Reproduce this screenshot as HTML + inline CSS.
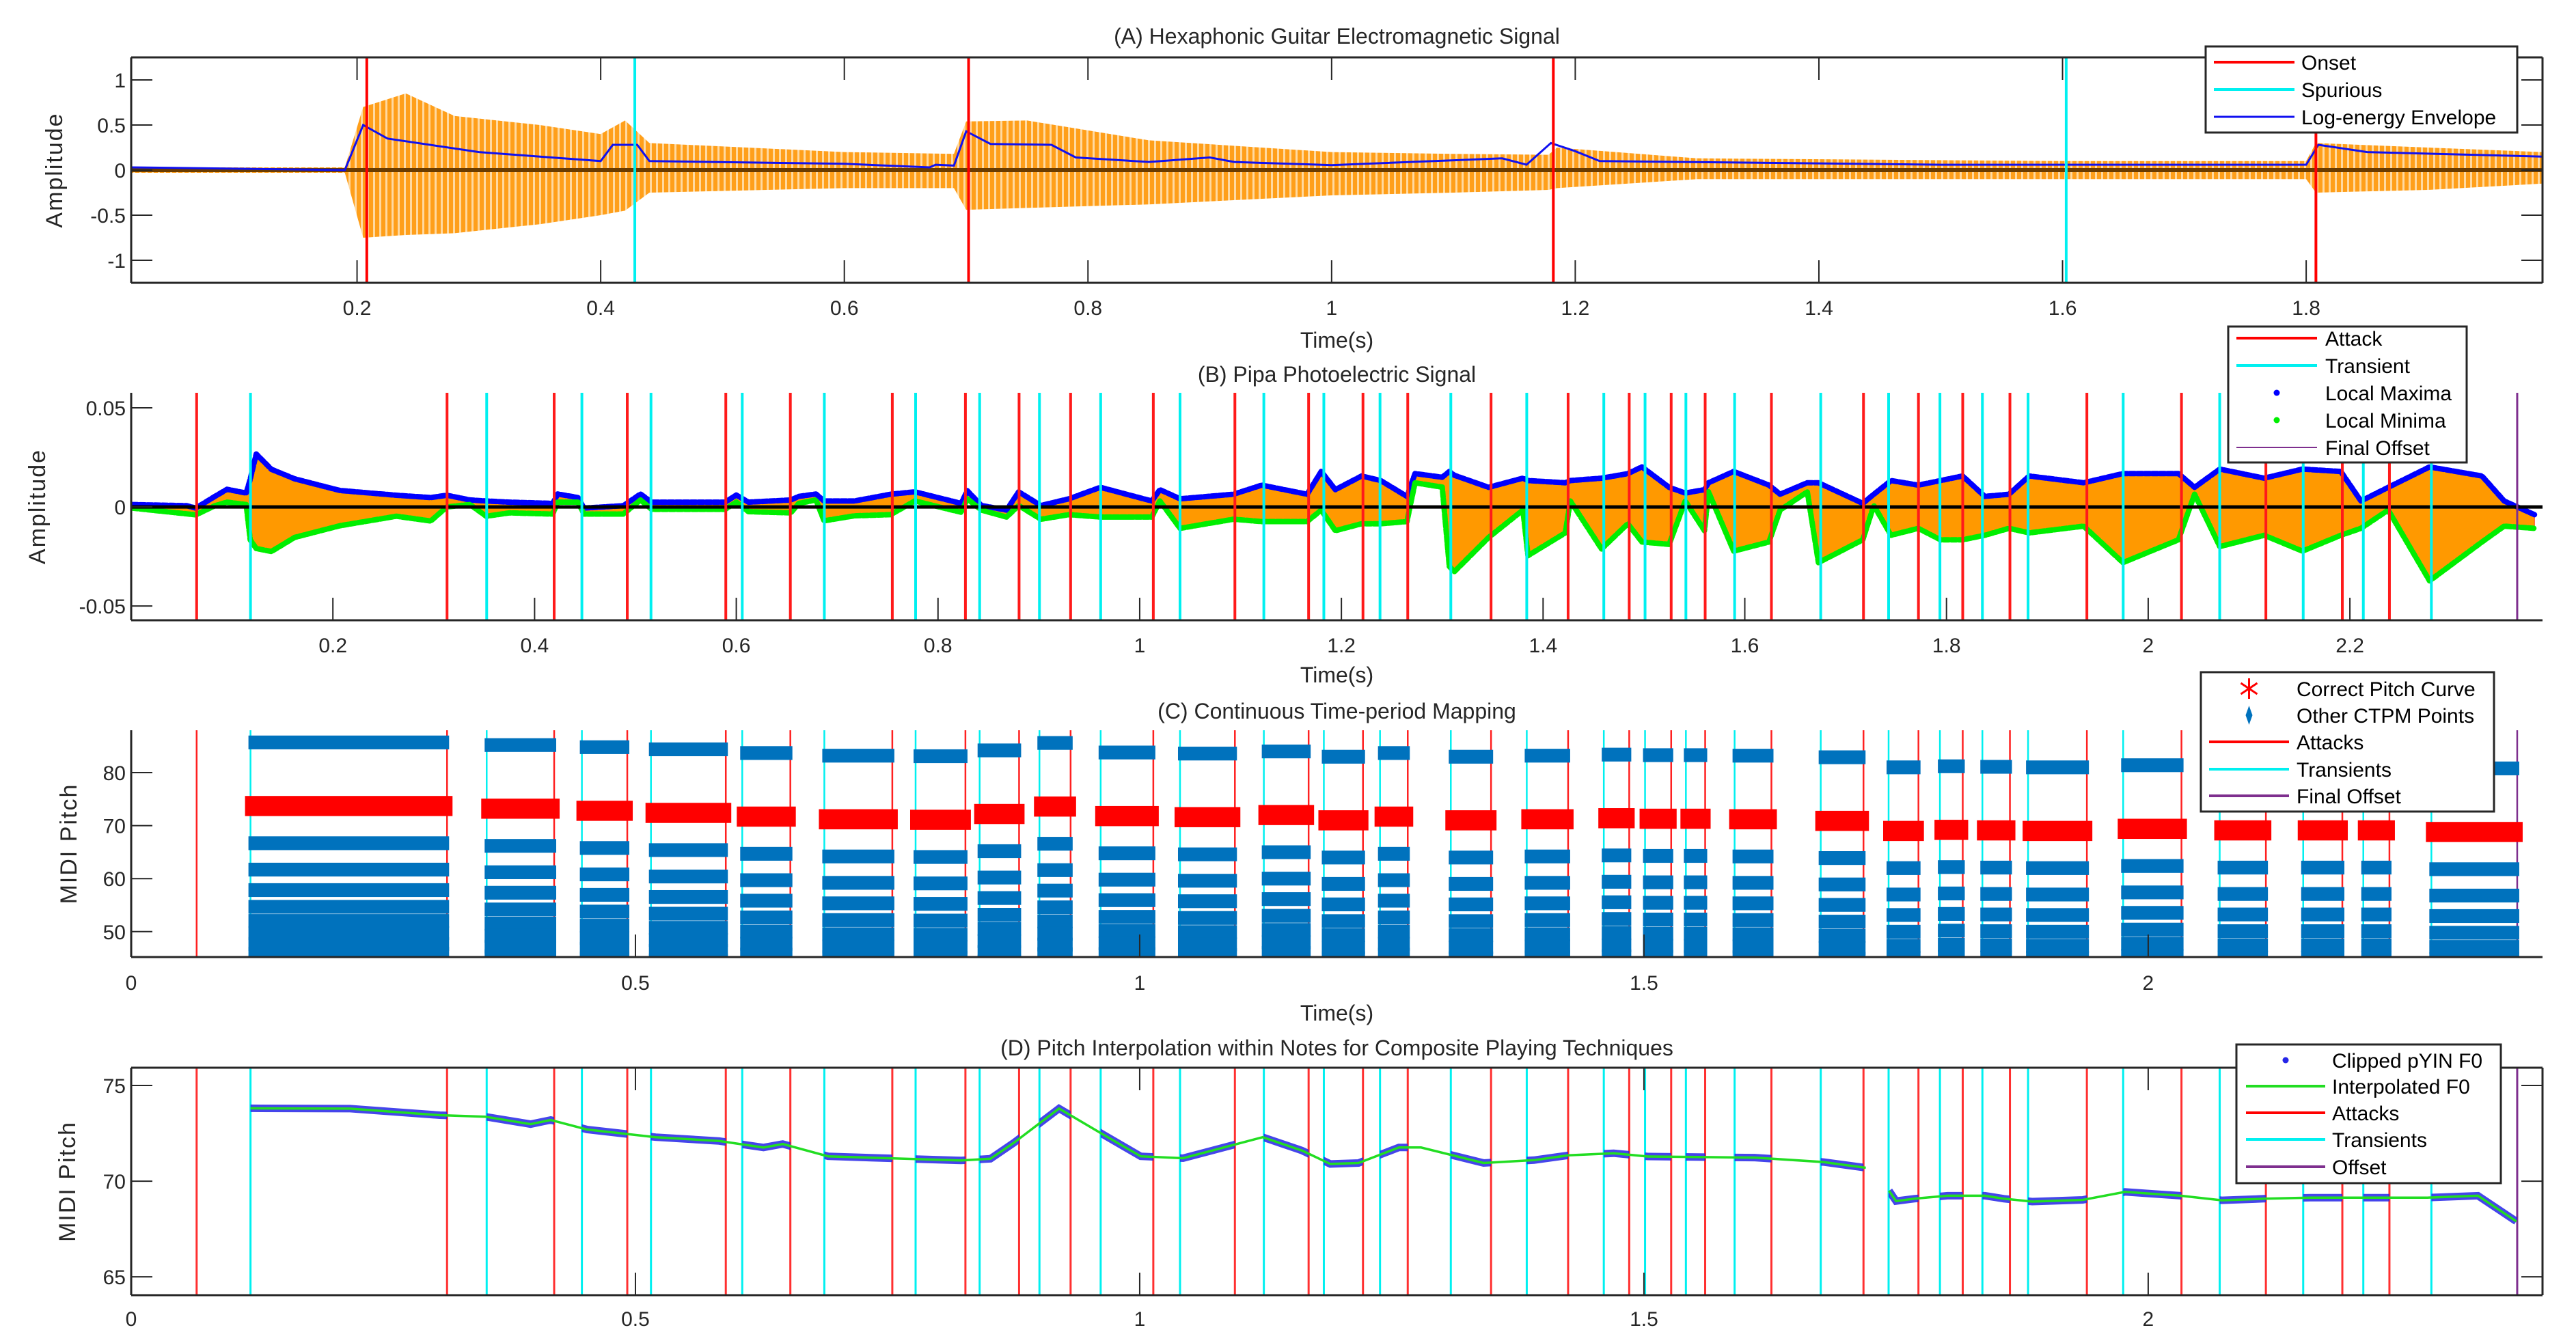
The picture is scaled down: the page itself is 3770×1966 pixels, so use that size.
<!DOCTYPE html>
<html><head><meta charset="utf-8"><title>Pipa signal figure</title>
<style>
html,body{margin:0;padding:0;background:#fff;}
svg{display:block;font-family:"Liberation Sans",Arial,sans-serif;}
</style></head>
<body>
<svg id="chart" width="3770" height="1966" viewBox="0 0 3770 1966" xmlns="http://www.w3.org/2000/svg">
<defs>
<pattern id="stripeA" x="0" y="0" width="9" height="10" patternUnits="userSpaceOnUse">
<rect x="0" y="0" width="6" height="10" fill="#FF9F1A"/>
<rect x="6" y="0" width="3" height="10" fill="#FFD9A0"/>
</pattern>
</defs>
<rect x="0" y="0" width="3770" height="1966" fill="#fff"/>
</svg>
<script>
// ---------- Panel A data ----------
const aT  = [0.0146,0.19,0.205,0.24,0.28,0.35,0.40,0.42,0.44,0.6,0.69,0.70,0.75,0.85,1.0,1.1,1.178,1.185,1.3,1.6,1.8,1.808,1.9,1.994];
const aUp = [0.03,0.03,0.7,0.85,0.6,0.5,0.4,0.55,0.3,0.2,0.18,0.54,0.55,0.33,0.2,0.18,0.17,0.25,0.13,0.1,0.1,0.3,0.25,0.2];
const aLo = [-0.03,-0.03,-0.75,-0.72,-0.7,-0.6,-0.5,-0.45,-0.25,-0.2,-0.2,-0.44,-0.42,-0.38,-0.28,-0.25,-0.22,-0.2,-0.1,-0.1,-0.1,-0.25,-0.22,-0.15];
const envT = [0.0146,0.19,0.205,0.225,0.3,0.35,0.40,0.41,0.43,0.44,0.6,0.67,0.675,0.69,0.70,0.72,0.77,0.79,0.85,0.9,0.92,1.0,1.14,1.16,1.18,1.2,1.22,1.5,1.8,1.81,1.85,1.994];
const envV = [0.03,0.0,0.5,0.35,0.2,0.15,0.1,0.28,0.28,0.1,0.07,0.03,0.06,0.05,0.43,0.29,0.28,0.14,0.09,0.14,0.09,0.055,0.13,0.06,0.3,0.21,0.1,0.06,0.06,0.28,0.2,0.15];
const aOnsets = [0.208,0.702,1.182,1.808];
const aSpurious = [0.428,1.603];
const aXTicks = [0.2,0.4,0.6,0.8,1,1.2,1.4,1.6,1.8];
const aXTickLabels = ["0.2","0.4","0.6","0.8","1","1.2","1.4","1.6","1.8"];
const aYTicks = [-1,-0.5,0,0.5,1];
const aYTickLabels = ["-1","-0.5","0","0.5","1"];

// ---------- Shared event times (B, C, D) ----------
const attacks = [0.0649,0.3132,0.4194,0.4919,0.5896,0.6536,0.7547,0.8272,0.8804,0.9315,1.0135,1.0944,1.1675,1.2214,1.2658,1.3484,1.4248,1.4854,1.5270,1.5607,1.6264,1.7177,1.7722,1.8161,1.8629,1.9392,2.0330,2.1167,2.1925,2.2392];
const transients = [0.1183,0.3525,0.4469,0.5154,0.6059,0.6873,0.7778,0.8413,0.9006,0.9613,1.0400,1.1231,1.1826,1.2383,1.3085,1.3838,1.4602,1.5011,1.5416,1.5899,1.6753,1.7426,1.7935,1.8356,1.8809,1.9752,2.0709,2.1537,2.2133,2.2808];
const finalOffset = [2.3659];

// ---------- Panel B data ----------
const bT  = [0.001,0.055,0.064,0.083,0.095,0.114,0.118,0.124,0.139,0.162,0.207,0.263,0.297,0.313,0.336,0.352,0.375,0.418,0.423,0.443,0.449,0.488,0.505,0.516,0.589,0.600,0.612,0.654,0.662,0.679,0.687,0.717,0.753,0.777,0.823,0.829,0.843,0.868,0.880,0.902,0.930,0.961,1.012,1.020,1.040,1.093,1.121,1.166,1.180,1.194,1.220,1.239,1.265,1.273,1.300,1.307,1.312,1.346,1.380,1.385,1.422,1.427,1.458,1.484,1.498,1.525,1.541,1.560,1.564,1.589,1.624,1.635,1.662,1.673,1.717,1.728,1.745,1.772,1.794,1.816,1.838,1.862,1.882,1.936,1.975,2.030,2.046,2.071,2.115,2.153,2.191,2.211,2.238,2.279,2.331,2.353,2.383];
const bUp = [1.2,0.6,-0.6,5.3,8.9,7,14,26.7,19,14.2,8.3,5.9,4.7,5.9,3.5,3,2.4,1.8,6.5,4.7,-0.6,0.6,6.5,2.4,2.4,6,2.4,3.5,5.3,6.5,3,3,6.4,7.6,1.8,8.2,0.7,-1.6,7.6,0.7,4.1,9.9,3,8.7,4.1,6.4,11,6.4,17.9,8.7,15.6,13.3,5.3,16.8,15,17.9,16,9.9,14.5,13.3,12.2,13.3,14.5,16.8,20.2,9.9,7,8.7,12.2,17.9,11,6.4,12.2,12.2,1.8,6.4,13.3,11,13.3,15.6,5.3,6.4,15.6,12.2,16.8,16.8,9.9,19.1,14.5,19.1,17.9,3,9.9,20.2,15.6,3,-3.9];
const bLo = [-0.6,-3.5,-4,0.6,2.4,1.2,-16.6,-21,-22.5,-15.4,-9.5,-4.7,-7.1,0,1.2,-4.7,-3,-3.6,2.4,2.4,-3.6,-3.6,3.5,-1.2,-1.2,2.4,-2.4,-3,1.8,3.5,-7,-4.5,-3.9,3,-2.7,4.1,-1.6,-5.1,0.7,-6.2,-3.9,-5.1,-5.1,3,-10.8,-6.2,-7.4,-7.4,-1.6,-12,-8.5,-8.5,-7.4,12.2,10,-30,-32.7,-15.4,-1.6,-24.6,-13.1,3,-21.2,-8.5,-17.7,-18.9,3,-12,7.6,-22.3,-17.7,-1.6,7.6,-28.1,-16.6,0.7,-14.3,-10.8,-16.6,-16.6,-14.3,-10.8,-13.1,-9.7,-28.1,-16.6,6.4,-20,-14.3,-22.3,-14.3,-10.8,-1.6,-37.3,-17.7,-9.7,-10.8];
const bXTicks = [0.2,0.4,0.6,0.8,1,1.2,1.4,1.6,1.8,2,2.2];
const bXTickLabels = ["0.2","0.4","0.6","0.8","1","1.2","1.4","1.6","1.8","2","2.2"];
const bYTicks = [-0.05,0,0.05];
const bYTickLabels = ["-0.05","0","0.05"];

// ---------- Panel C data ----------
const cPitch = [73.7,73.2,72.8,72.4,71.7,71.2,71.1,72.2,73.6,71.8,71.6,72.0,71.0,71.7,71.0,71.2,71.4,71.3,71.3,71.2,70.9,69.0,69.2,69.1,69.0,69.4,69.1,69.1,69.1,68.8];
const cHarmonicK = [1,3,4,5,6,7,8,9,10,11,12,13,14];
const cXTicks = [0,0.5,1,1.5,2];
const cXTickLabels = ["0","0.5","1","1.5","2"];
const cYTicks = [50,60,70,80];
const cYTickLabels = ["50","60","70","80"];

// ---------- Panel D data ----------
const dT = [0.1183,0.217,0.306,0.351,0.396,0.416,0.452,0.486,0.520,0.583,0.627,0.646,0.691,0.750,0.823,0.852,0.875,0.920,0.965,1.001,1.043,1.122,1.161,1.189,1.217,1.257,1.279,1.341,1.391,1.425,1.470,1.504,1.554,1.610,1.678,1.720,null,1.743,1.750,1.768,1.801,1.838,1.857,1.885,1.935,1.977,2.032,2.073,2.115,2.161,2.208,2.277,2.327,2.365];
const dF0 = [73.81,73.79,73.45,73.37,72.98,73.2,72.7,72.5,72.3,72.1,71.76,71.94,71.3,71.2,71.08,71.17,72.0,73.8,72.4,71.3,71.2,72.3,71.6,70.9,70.95,71.76,71.76,70.95,71.1,71.35,71.46,71.29,71.26,71.23,71.0,70.7,null,69.5,68.96,69.08,69.24,69.24,69.08,68.93,69.02,69.44,69.24,69.0,69.08,69.14,69.14,69.14,69.24,67.9];
const dYTicks = [65,70,75];
const dYTickLabels = ["65","70","75"];

// ---------- layout ----------
const NS = 'http://www.w3.org/2000/svg';
const svg = document.getElementById('chart');
const PA = {L:192,R:3721,T:84,B:414,x0:0.0146,x1:1.994,y0:-1.25,y1:1.25};
const PB = {L:192,R:3721,T:575,B:908,x0:0,x1:2.391,y0:-0.0572,y1:0.0576};
const PC = {L:192,R:3721,T:1069,B:1401,x0:0,x1:2.391,y0:45.2,y1:88};
const PD = {L:192,R:3721,T:1563,B:1896,x0:0,x1:2.391,y0:64.04,y1:75.93};
const AX = '#262626';

function mk(tag, parent, at) {
  const e = document.createElementNS(NS, tag);
  for (const k in at) e.setAttribute(k, at[k]);
  (parent || svg).appendChild(e);
  return e;
}
function sx(p, v) { return p.L + (v - p.x0) / (p.x1 - p.x0) * (p.R - p.L); }
function sy(p, v) { return p.B - (v - p.y0) / (p.y1 - p.y0) * (p.B - p.T); }
function pathOf(p, xs, ys) {
  let d = '', pen = false;
  for (let i = 0; i < xs.length; i++) {
    if (xs[i] === null || ys[i] === null) { pen = false; continue; }
    d += (pen ? 'L' : 'M') + sx(p, xs[i]).toFixed(1) + ',' + sy(p, ys[i]).toFixed(1);
    pen = true;
  }
  return d;
}
function clipFor(p, id) {
  const defs = mk('defs', svg, {});
  const cp = mk('clipPath', defs, {id: id});
  mk('rect', cp, {x: p.L, y: p.T, width: p.R - p.L, height: p.B - p.T});
}
function vlines(p, g, times, color, w, name) {
  times.forEach(t => {
    const l = mk('line', g, {x1: sx(p, t), x2: sx(p, t), y1: p.T, y2: p.B, stroke: color, 'stroke-width': w});
    
    
  });
}
function text(parent, x, y, s, size, anchor, extra) {
  const t = mk('text', parent, Object.assign({x: x, y: y, 'font-size': size, 'text-anchor': anchor || 'middle', fill: '#262626'}, extra || {}));
  t.textContent = s;
  return t;
}
function axes(p, g, xt, xl, yt, yl, box, labY) {
  const fr = mk('g', g, {stroke: AX, 'stroke-width': 3, fill: 'none'});
  
  
  mk('line', fr, {x1: p.L, x2: p.L, y1: p.T, y2: p.B});
  mk('line', fr, {x1: p.L, x2: p.R, y1: p.B, y2: p.B});
  if (box) {
    mk('line', fr, {x1: p.L, x2: p.R, y1: p.T, y2: p.T});
    mk('line', fr, {x1: p.R, x2: p.R, y1: p.T, y2: p.B});
  }
  xt.forEach((v, i) => {
    const x = sx(p, v);
    mk('line', fr, {x1: x, x2: x, y1: p.B, y2: p.B - 33, 'stroke-width': 2});
    if (box) mk('line', fr, {x1: x, x2: x, y1: p.T, y2: p.T + 33, 'stroke-width': 2});
    const t = text(g, x, labY, xl[i], 30, 'middle');
    
    
  });
  yt.forEach((v, i) => {
    const y = sy(p, v);
    mk('line', fr, {x1: p.L, x2: p.L + 31, y1: y, y2: y, 'stroke-width': 2});
    if (box) mk('line', fr, {x1: p.R, x2: p.R - 31, y1: y, y2: y, 'stroke-width': 2});
    const t = text(g, p.L - 8, y + 11, yl[i], 30, 'end');
    
    
  });
}
function titles(p, g, title, tY, xlabY, ylab, ylX) {
  const cx = (p.L + p.R) / 2, cy = (p.T + p.B) / 2;
  const t1 = text(g, cx, tY, title, 32, 'middle');
  
  
  const t2 = text(g, cx, xlabY, 'Time(s)', 32, 'middle');
  
  
  const t3 = text(g, ylX, cy, ylab, 34, 'middle', {transform: 'rotate(-90 ' + ylX + ' ' + cy + ')', 'letter-spacing': '2'});
  
  
}
function legend(g, bx, entries, rows, lx0, lx1, tx) {
  const lg = mk('g', g, {});
  
  
  mk('rect', lg, {x: bx[0], y: bx[1], width: bx[2] - bx[0], height: bx[3] - bx[1], fill: '#fff', stroke: AX, 'stroke-width': 3});
  entries.forEach((en, i) => {
    const eg = mk('g', lg, {});
    
    
    const y = rows[i], mx = (lx0 + lx1) / 2;
    if (en.type === 'line') mk('line', eg, {x1: lx0, x2: lx1, y1: y, y2: y, stroke: en.color, 'stroke-width': en.w || 4});
    else if (en.type === 'dot') mk('circle', eg, {cx: mx, cy: y, r: 4.5, fill: en.color});
    else if (en.type === 'star') {
      const sg = mk('g', eg, {stroke: en.color, 'stroke-width': 3});
      mk('line', sg, {x1: mx, x2: mx, y1: y - 15, y2: y + 15});
      mk('line', sg, {x1: mx - 12, x2: mx + 12, y1: y - 8, y2: y + 8});
      mk('line', sg, {x1: mx - 12, x2: mx + 12, y1: y + 8, y2: y - 8});
    } else if (en.type === 'plus') {
      mk('path', eg, {d: 'M' + mx + ',' + (y - 14) + 'L' + (mx + 5) + ',' + y + 'L' + mx + ',' + (y + 14) + 'L' + (mx - 5) + ',' + y + 'Z', fill: en.color});
    }
    text(eg, tx, y + 11, en.label, 30, 'start', {fill: '#000'});
  });
}

// ================= Panel A =================
(function () {
  const p = PA;
  const g = mk('g', svg, {});
  
  
  clipFor(p, 'clipA');
  const pg = mk('g', g, {'clip-path': 'url(#clipA)'});
  let d = pathOf(p, aT, aUp);
  for (let i = aT.length - 1; i >= 0; i--) d += 'L' + sx(p, aT[i]).toFixed(1) + ',' + sy(p, aLo[i]).toFixed(1);
  const wave = mk('path', pg, {d: d + 'Z', fill: 'url(#stripeA)'});
  
  
  const z = mk('line', pg, {x1: p.L, x2: p.R, y1: sy(p, 0), y2: sy(p, 0), stroke: '#6b3c00', 'stroke-width': 6});
  
  
  const env = mk('path', pg, {d: pathOf(p, envT, envV), fill: 'none', stroke: '#1010F0', 'stroke-width': 3});
  
  
  vlines(p, pg, aOnsets, '#FF0000', 4, 'onset-line');
  vlines(p, pg, aSpurious, '#00F0F0', 4, 'spurious-line');
  axes(p, g, aXTicks, aXTickLabels, aYTicks, aYTickLabels, true, 461);
  titles(p, g, '(A) Hexaphonic Guitar Electromagnetic Signal', 64, 509, 'Amplitude', 91);
  legend(g, [3228, 68, 3684, 194], [
    {type: 'line', color: '#FF0000', label: 'Onset'},
    {type: 'line', color: '#00F0F0', label: 'Spurious'},
    {type: 'line', color: '#1010F0', label: 'Log-energy Envelope', w: 3}
  ], [91, 131, 171], 3240, 3358, 3368);
})();

// ================= Panel B =================
(function () {
  const p = PB;
  const g = mk('g', svg, {});
  
  
  clipFor(p, 'clipB');
  const pg = mk('g', g, {'clip-path': 'url(#clipB)'});
  const up = bUp.map(v => v / 1000), lo = bLo.map(v => v / 1000);
  let d = pathOf(p, bT, up);
  for (let i = bT.length - 1; i >= 0; i--) d += 'L' + sx(p, bT[i]).toFixed(1) + ',' + sy(p, lo[i]).toFixed(1);
  const wave = mk('path', pg, {d: d + 'Z', fill: '#FF9900', stroke: '#FF3300', 'stroke-width': 1});
  
  
  const mx = mk('path', pg, {d: pathOf(p, bT, up), fill: 'none', stroke: '#0000FF', 'stroke-width': 8, 'stroke-linejoin': 'round', 'stroke-linecap': 'round', 'stroke-dasharray': '8 3'});
  
  
  const mn = mk('path', pg, {d: pathOf(p, bT, lo), fill: 'none', stroke: '#00EE00', 'stroke-width': 8, 'stroke-linejoin': 'round', 'stroke-linecap': 'round', 'stroke-dasharray': '8 3'});
  
  
  const z = mk('line', pg, {x1: p.L, x2: p.R, y1: sy(p, 0), y2: sy(p, 0), stroke: '#000', 'stroke-width': 5});
  
  
  vlines(p, pg, attacks, '#FF1A1A', 4, 'attack-line');
  vlines(p, pg, transients, '#00F0F0', 4, 'transient-line');
  vlines(p, pg, finalOffset, '#7E2F8E', 3, 'final-offset-line');
  axes(p, g, bXTicks, bXTickLabels, bYTicks, bYTickLabels, false, 955);
  titles(p, g, '(B) Pipa Photoelectric Signal', 559, 999, 'Amplitude', 66);
  legend(g, [3261, 478, 3610, 677], [
    {type: 'line', color: '#FF0000', label: 'Attack'},
    {type: 'line', color: '#00F0F0', label: 'Transient'},
    {type: 'dot', color: '#0000FF', label: 'Local Maxima'},
    {type: 'dot', color: '#00EE00', label: 'Local Minima'},
    {type: 'line', color: '#7E2F8E', label: 'Final Offset', w: 2}
  ], [495, 535, 575, 615, 655], 3273, 3391, 3403);
})();

// ================= Panel C =================
(function () {
  const p = PC;
  const g = mk('g', svg, {});
  
  
  clipFor(p, 'clipC');
  const pg = mk('g', g, {'clip-path': 'url(#clipC)'});
  vlines(p, pg, attacks, '#FF2020', 2.5, 'attack-line');
  vlines(p, pg, transients, '#00F0F0', 2.5, 'transient-line');
  vlines(p, pg, finalOffset, '#7E2F8E', 2.5, 'final-offset-line');
  cPitch.forEach((pp, i) => {
    const t0 = transients[i];
    const t1 = i + 1 < attacks.length ? attacks[i + 1] : finalOffset[0];
    const x0 = sx(p, t0), x1 = sx(p, t1);
    cHarmonicK.forEach(k => {
      const hp = pp + 12 - 12 * Math.log2(k);
      if (hp < p.y0 - 1.5) return;
      const r = mk('rect', pg, {x: x0 - 3, y: sy(p, hp + 1.3), width: x1 - x0 + 6, height: sy(p, hp - 1.3) - sy(p, hp + 1.3), fill: '#0072BD'});
      
      
    });
    const r = mk('rect', pg, {x: x0 - 8, y: sy(p, pp + 1.9), width: x1 - x0 + 16, height: sy(p, pp - 1.9) - sy(p, pp + 1.9), fill: '#FF0000'});
    
    
  });
  axes(p, g, cXTicks, cXTickLabels, cYTicks, cYTickLabels, false, 1449);
  titles(p, g, '(C) Continuous Time-period Mapping', 1052, 1494, 'MIDI Pitch', 112);
  legend(g, [3221, 984, 3650, 1188], [
    {type: 'star', color: '#FF0000', label: 'Correct Pitch Curve'},
    {type: 'plus', color: '#0072BD', label: 'Other CTPM Points'},
    {type: 'line', color: '#FF0000', label: 'Attacks'},
    {type: 'line', color: '#00F0F0', label: 'Transients'},
    {type: 'line', color: '#7E2F8E', label: 'Final Offset'}
  ], [1008, 1047, 1086, 1126, 1165], 3233, 3350, 3361);
})();

// ================= Panel D =================
(function () {
  const p = PD;
  const g = mk('g', svg, {});
  
  
  clipFor(p, 'clipD');
  const defs = mk('defs', svg, {});
  const cp = mk('clipPath', defs, {id: 'clipNotes'});
  transients.forEach((t0, i) => {
    const t1 = i + 1 < attacks.length ? attacks[i + 1] : finalOffset[0];
    mk('rect', cp, {x: sx(p, t0), y: p.T, width: sx(p, t1) - sx(p, t0), height: p.B - p.T});
  });
  const pg = mk('g', g, {'clip-path': 'url(#clipD)'});
  vlines(p, pg, attacks, '#FF3030', 3, 'attack-line');
  vlines(p, pg, transients, '#00F0F0', 3, 'transient-line');
  vlines(p, pg, finalOffset, '#7E2F8E', 3, 'offset-line');
  const ng = mk('g', pg, {'clip-path': 'url(#clipNotes)'});
  const py = mk('path', ng, {d: pathOf(p, dT, dF0), fill: 'none', stroke: '#2525E8', 'stroke-width': 11, 'stroke-opacity': 0.85});
  
  
  const gl = mk('path', pg, {d: pathOf(p, dT, dF0), fill: 'none', stroke: '#22DD22', 'stroke-width': 3.5});
  
  
  axes(p, g, cXTicks, cXTickLabels, dYTicks, dYTickLabels, true, 1941);
  titles(p, g, '(D) Pitch Interpolation within Notes for Composite Playing Techniques', 1545, 1990, 'MIDI Pitch', 110);
  legend(g, [3273, 1529, 3660, 1732], [
    {type: 'dot', color: '#2525E8', label: 'Clipped pYIN F0'},
    {type: 'line', color: '#22DD22', label: 'Interpolated F0'},
    {type: 'line', color: '#FF0000', label: 'Attacks'},
    {type: 'line', color: '#00F0F0', label: 'Transients'},
    {type: 'line', color: '#7E2F8E', label: 'Offset'}
  ], [1552, 1590, 1629, 1668, 1708], 3287, 3403, 3413);
})();
</script>
</body></html>
